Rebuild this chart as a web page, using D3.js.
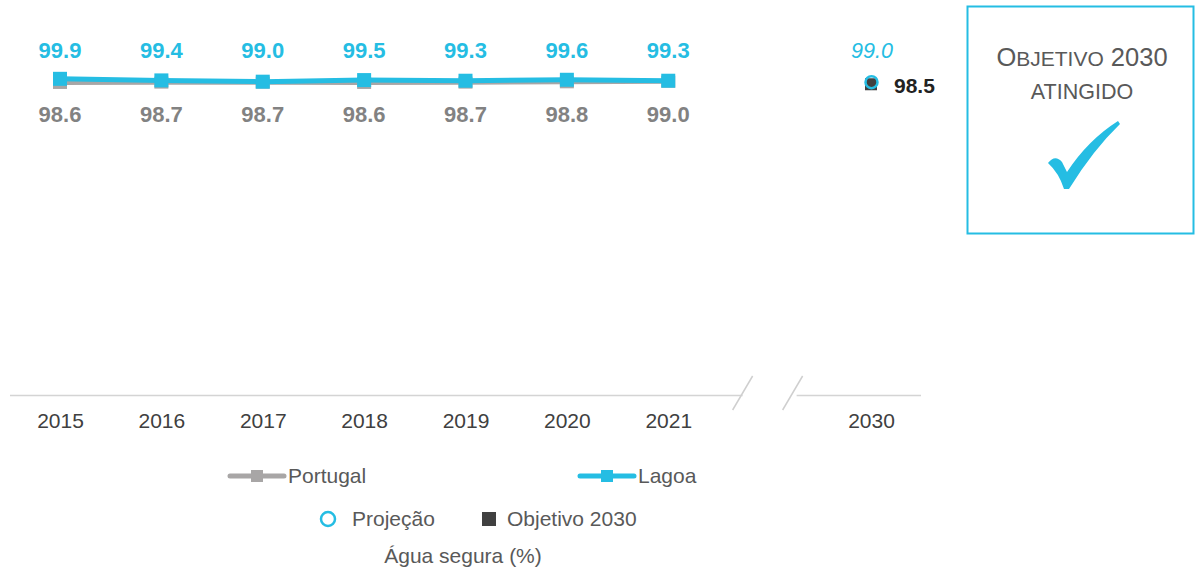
<!DOCTYPE html>
<html><head><meta charset="utf-8">
<script src="https://cdn.jsdelivr.net/npm/d3@7"></script>
<style>body{margin:0;background:#fff}svg{display:block;font-family:"Liberation Sans",Arial,sans-serif}</style>
</head><body>
<svg id="c" width="1195" height="572"></svg>
<script>
const years = ["2015","2016","2017","2018","2019","2020","2021"];
const slots = ["2015","2016","2017","2018","2019","2020","2021","gap","2030"];
const portugal = [98.6,98.7,98.7,98.6,98.7,98.8,99.0];
const lagoa = [99.9,99.4,99.0,99.5,99.3,99.6,99.3];
const projection2030 = [99.0];
const objective2030 = [98.5];
const tickLabels = ["2015","2016","2017","2018","2019","2020","2021","2030"];

const CYAN = "#25bde3", GREY = "#a8a6a6";
const FONT = "'Liberation Sans', Arial, sans-serif";
const svg = d3.select("#c");
const x = d3.scalePoint().domain(slots).range([60, 871]);
const y = d3.scaleLinear().domain([0,100]).range([396, 78.5]);

// axis
const axis = d3.axisBottom(x).tickValues(tickLabels).tickSize(0).tickPadding(17);
const ag = svg.append("g").attr("transform","translate(0,396)").call(axis);
ag.select(".domain").remove();
ag.selectAll("text").attr("font-size",21).attr("fill","#404040").attr("font-family",FONT);
const gx = x("gap");
svg.append("line").attr("x1",10).attr("x2",gx-27).attr("y1",395.5).attr("y2",395.5).attr("stroke","#d4d4d4").attr("stroke-width",1.5);
svg.append("line").attr("x1",gx+27).attr("x2",921).attr("y1",395.5).attr("y2",395.5).attr("stroke","#d4d4d4").attr("stroke-width",1.5);
[[gx-37,gx-17],[gx+13,gx+33]].forEach(([a,b])=>{
  svg.append("line").attr("x1",a).attr("y1",410).attr("x2",b).attr("y2",376).attr("stroke","#cfcfcf").attr("stroke-width",1.5);
});

const line = d3.line().x((d,i)=>x(years[i])).y(d=>y(d));
// Portugal
svg.append("path").datum(portugal).attr("d",line).attr("fill","none").attr("stroke",GREY).attr("stroke-width",4);
svg.selectAll(".pm").data(portugal).join("rect").attr("x",(d,i)=>x(years[i])-7).attr("y",d=>y(d)-6).attr("width",14).attr("height",12).attr("fill",GREY);
// Lagoa
svg.append("path").datum(lagoa).attr("d",line).attr("fill","none").attr("stroke",CYAN).attr("stroke-width",5);
svg.selectAll(".lm").data(lagoa).join("rect").attr("x",(d,i)=>x(years[i])-7).attr("y",d=>y(d)-7).attr("width",14).attr("height",14).attr("fill",CYAN);

// labels
svg.selectAll(".ll").data(lagoa).join("text").attr("x",(d,i)=>x(years[i])).attr("y",58).attr("text-anchor","middle")
  .attr("font-size",22).attr("font-weight","bold").attr("fill",CYAN).text(d=>d.toFixed(1));
svg.selectAll(".pl").data(portugal).join("text").attr("x",(d,i)=>x(years[i])).attr("y",122).attr("text-anchor","middle")
  .attr("font-size",22).attr("font-weight","bold").attr("fill","#828282").text(d=>d.toFixed(1));

// 2030
const x30 = x("2030");
svg.selectAll(".obj").data(objective2030).join("rect").attr("x",x30-6).attr("y",d=>y(d)-5).attr("width",12).attr("height",12).attr("fill","#404040");
svg.selectAll(".prj").data(projection2030).join("circle").attr("cx",x30+0.5).attr("cy",d=>y(d)+0.5).attr("r",6).attr("fill","none").attr("stroke",CYAN).attr("stroke-width",2.5);
svg.selectAll(".prjl").data(projection2030).join("text").attr("x",x30+1).attr("y",58).attr("text-anchor","middle")
  .attr("font-size",21.5).attr("font-style","italic").attr("fill",CYAN).text(d=>d.toFixed(1));
svg.selectAll(".objl").data(objective2030).join("text").attr("x",x30+23).attr("y",93)
  .attr("font-size",21).attr("font-weight","bold").attr("fill","#222").text(d=>d.toFixed(1));

// box
svg.append("rect").attr("x",967.5).attr("y",6.5).attr("width",226).attr("height",227).attr("fill","none").attr("stroke",CYAN).attr("stroke-width",2);
const t1 = svg.append("text").attr("x",1082).attr("y",66).attr("text-anchor","middle").attr("fill","#595959").attr("font-size",25.5);
t1.append("tspan").text("O");
t1.append("tspan").attr("font-size",21).text("BJETIVO");
t1.append("tspan").text(" 2030");
svg.append("text").attr("x",1082).attr("y",99).attr("text-anchor","middle").attr("fill","#595959").attr("font-size",21.5).text("ATINGIDO");
svg.append("path").attr("fill",CYAN)
  .attr("d","M1048,163 Q1055,154 1062,162 L1067,172 Q1088,140 1118,121 L1120,124 Q1093,150 1069,189 L1064,189 Q1059,173 1048,163 Z");

// legend
function legLine(x0, col, label){
  svg.append("line").attr("x1",x0).attr("x2",x0+54).attr("y1",476).attr("y2",476).attr("stroke",col).attr("stroke-width",5).attr("stroke-linecap","round");
  svg.append("rect").attr("x",x0+21).attr("y",470).attr("width",12).attr("height",12).attr("fill",col);
  svg.append("text").attr("x",x0+58).attr("y",483).attr("font-size",21).attr("fill","#595959").text(label);
}
legLine(230, GREY, "Portugal");
legLine(580, CYAN, "Lagoa");
svg.append("circle").attr("cx",328).attr("cy",519).attr("r",7).attr("fill","none").attr("stroke",CYAN).attr("stroke-width",2.5);
svg.append("text").attr("x",352).attr("y",526).attr("font-size",21).attr("fill","#595959").text("Projeção");
svg.append("rect").attr("x",482).attr("y",512).attr("width",14).attr("height",14).attr("fill","#404040");
svg.append("text").attr("x",507).attr("y",526).attr("font-size",21).attr("fill","#595959").text("Objetivo 2030");
svg.append("text").attr("x",463).attr("y",563).attr("text-anchor","middle").attr("font-size",21).attr("fill","#595959").text("Água segura (%)");
</script>
</body></html>
